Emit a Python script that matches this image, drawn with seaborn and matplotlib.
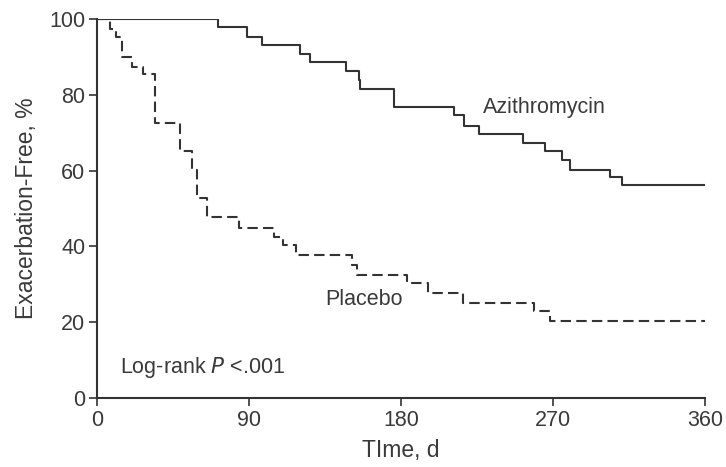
import pandas as pd
import seaborn as sns
import matplotlib.pyplot as plt

# Kaplan-Meier step points (day, % exacerbation-free)
azi_days = [0, 71.5, 89, 98, 120.5, 126, 147.5, 155, 156, 176, 211.5, 217.5,
            226, 252, 265, 275.5, 280, 304, 311, 360]
azi_pct = [100, 98, 95.4, 93.2, 90.8, 88.6, 86.4, 84, 81.5, 76.7, 74.6, 71.9,
           69.8, 67.2, 65.2, 62.8, 60.3, 58.4, 56.2, 56.2]

pla_days = [0, 7.5, 11, 15, 20.5, 27.5, 34.5, 49, 56, 59, 65, 84, 105, 110,
            118, 151, 154, 183.5, 196, 216.5, 258.5, 268, 360]
pla_pct = [100, 97.5, 95.3, 90, 87.4, 85.5, 72.5, 65.2, 60.2, 52.7, 47.8, 45,
           42.4, 40.4, 37.7, 35.1, 32.5, 30.4, 27.8, 25.1, 22.9, 20.3, 20.3]

x_ticks = [0, 90, 180, 270, 360]
y_ticks = [0, 20, 40, 60, 80, 100]

df = pd.concat([
    pd.DataFrame({'day': azi_days, 'pct': azi_pct, 'arm': 'Azithromycin'}),
    pd.DataFrame({'day': pla_days, 'pct': pla_pct, 'arm': 'Placebo'}),
])

sns.set_style('ticks')
plt.rcParams['font.family'] = ['Liberation Sans', 'DejaVu Sans']
txt = '#3a3a3a'
line = '#333333'

fig = plt.figure(figsize=(7.26, 4.67), dpi=100)
ax = fig.add_axes([0.1336, 0.1478, 0.8374, 0.8112])

sns.lineplot(data=df, x='day', y='pct', hue='arm', style='arm',
             palette={'Azithromycin': line, 'Placebo': line},
             dashes={'Azithromycin': '', 'Placebo': (5, 2.5)},
             drawstyle='steps-post', estimator=None, linewidth=1.5,
             legend=False, ax=ax)

ax.set_xlim(0, 360)
ax.set_ylim(0, 100)
ax.set_xticks(x_ticks)
ax.set_yticks(y_ticks)
ax.tick_params(colors=line, labelcolor=txt, labelsize=15.5, length=5.5,
               width=1.2, pad=3)
for s in ['left', 'bottom']:
    ax.spines[s].set_linewidth(1.5)
    ax.spines[s].set_color(line)
sns.despine(ax=ax)

ax.set_xlabel('TIme, d', fontsize=16.5, color=txt, labelpad=6)
ax.set_ylabel('Exacerbation-Free, %', fontsize=16.5, color=txt, labelpad=8)

ax.text(228.5, 75.2, 'Azithromycin', fontsize=15.5, color=txt, va='baseline')
ax.text(135, 24.5, 'Placebo', fontsize=15.5, color=txt, va='baseline')
ax.text(13.6, 6.6, 'Log-rank $P$ <.001', fontsize=15.5, color=txt, va='baseline')

fig.savefig('out.png', dpi=100)
